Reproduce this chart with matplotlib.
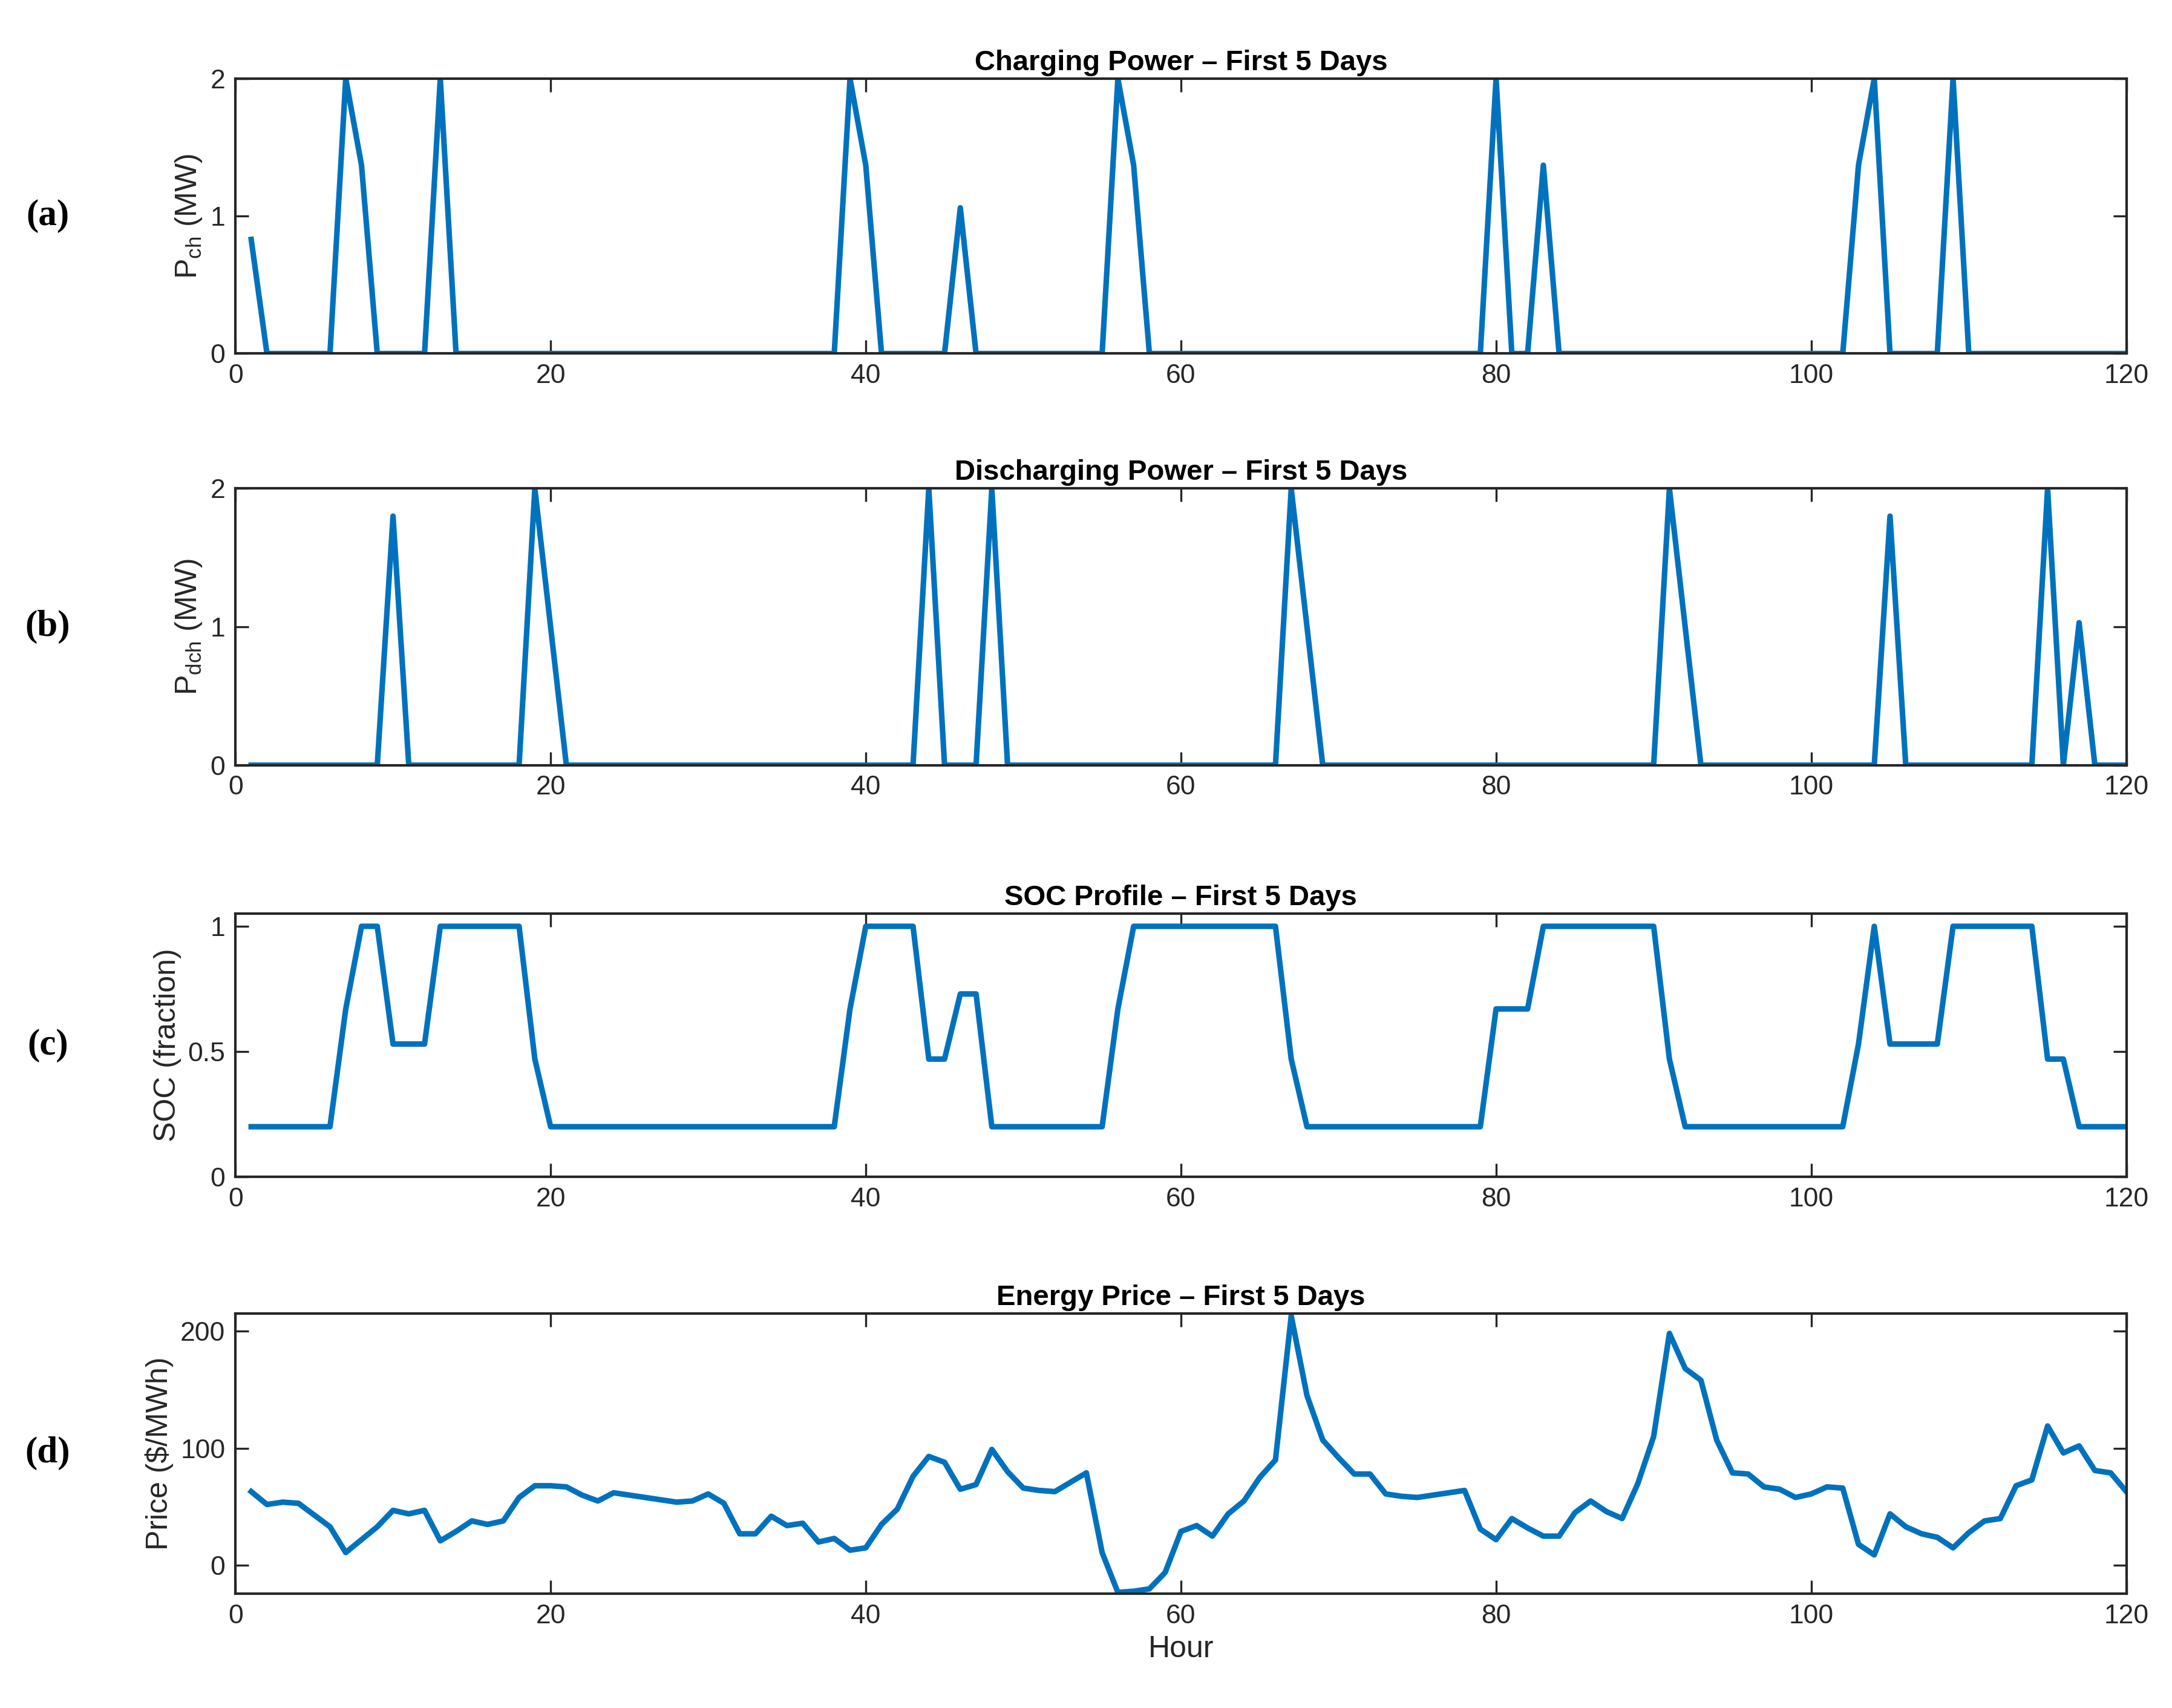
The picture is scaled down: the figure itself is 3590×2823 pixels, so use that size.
import matplotlib
matplotlib.use("Agg")
import matplotlib.pyplot as plt
import numpy as np

plt.rcParams['font.family'] = ['Liberation Sans', 'DejaVu Sans']
plt.rcParams['mathtext.fontset'] = 'custom'
plt.rcParams['mathtext.rm'] = 'Liberation Sans'

hours = np.arange(1, 121)

p_ch = [0.83,0,0,0,0,0,2,1.37,0,0, 0,0,2,0,0,0,0,0,0,0,
        0,0,0,0,0,0,0,0,0,0, 0,0,0,0,0,0,0,0,2,1.37,
        0,0,0,0,0,1.06,0,0,0,0, 0,0,0,0,0,2,1.37,0,0,0,
        0,0,0,0,0,0,0,0,0,0, 0,0,0,0,0,0,0,0,0,2,
        0,0,1.37,0,0,0,0,0,0,0, 0,0,0,0,0,0,0,0,0,0,
        0,0,1.37,2,0,0,0,0,2,0, 0,0,0,0,0,0,0,0,0,0]

p_dch = [0,0,0,0,0,0,0,0,0,1.8, 0,0,0,0,0,0,0,0,2,1,
         0,0,0,0,0,0,0,0,0,0, 0,0,0,0,0,0,0,0,0,0,
         0,0,0,2,0,0,0,2,0,0, 0,0,0,0,0,0,0,0,0,0,
         0,0,0,0,0,0,2,1,0,0, 0,0,0,0,0,0,0,0,0,0,
         0,0,0,0,0,0,0,0,0,0, 2,1,0,0,0,0,0,0,0,0,
         0,0,0,0,1.8,0,0,0,0,0, 0,0,0,0,2,0,1.03,0,0,0]

soc = [0.2,0.2,0.2,0.2,0.2,0.2,0.67,1,1,0.53, 0.53,0.53,1,1,1,1,1,1,0.47,0.2,
       0.2,0.2,0.2,0.2,0.2,0.2,0.2,0.2,0.2,0.2, 0.2,0.2,0.2,0.2,0.2,0.2,0.2,0.2,0.67,1,
       1,1,1,0.47,0.47,0.73,0.73,0.2,0.2,0.2, 0.2,0.2,0.2,0.2,0.2,0.67,1,1,1,1,
       1,1,1,1,1,1,0.47,0.2,0.2,0.2, 0.2,0.2,0.2,0.2,0.2,0.2,0.2,0.2,0.2,0.67,
       0.67,0.67,1,1,1,1,1,1,1,1, 0.47,0.2,0.2,0.2,0.2,0.2,0.2,0.2,0.2,0.2,
       0.2,0.2,0.53,1,0.53,0.53,0.53,0.53,1,1, 1,1,1,1,0.47,0.47,0.2,0.2,0.2,0.2]

price = [63,52,54,53,43,33,11,22,33,47, 44,47,21,29,38,35,38,58,68,68,
         67,60,55,62,60,58,56,54,55,61, 53,27,27,42,34,36,20,23,13,15,
         35,48,76,93,88,65,69,99,80,66, 64,63,71,79,11,-23,-22,-20,-6,29,
         34,25,44,55,75,90,213,145,107,92, 78,78,61,59,58,60,62,64,31,22,
         40,32,25,25,45,55,46,40,70,110, 198,168,158,107,79,78,67,65,58,61,
         67,66,18,9,44,33,27,24,15,28, 38,40,68,73,119,96,102,81,79,63]

titles = ["Charging Power – First 5 Days", "Discharging Power – First 5 Days",
          "SOC Profile – First 5 Days", "Energy Price – First 5 Days"]
ylabels = [r"P$_{\mathrm{ch}}$ (MW)", r"P$_{\mathrm{dch}}$ (MW)", "SOC (fraction)", "Price ($/MWh)"]
panel_labels = ["(a)", "(b)", "(c)", "(d)"]
series = [p_ch, p_dch, soc, price]
ylims = [(0, 2), (0, 2), (0, 1.05), (-24, 215)]
yticks = [[0, 1, 2], [0, 1, 2], [0, 0.5, 1], [0, 100, 200]]
ytl = [["0", "1", "2"], ["0", "1", "2"], ["0", "0.5", "1"], ["0", "100", "200"]]
boxes = [(0.793, 0.954), (0.552, 0.714), (0.311, 0.465), (0.067, 0.231)]

fig = plt.figure(figsize=(17.95, 14.115), dpi=200)
left, right = 0.1084, 0.979
for i in range(4):
    b, t = boxes[i]
    ax = fig.add_axes([left, b, right - left, t - b])
    ax.plot(hours, series[i], color='#0072BD', lw=3.3)
    ax.set_xlim(0, 120)
    ax.set_ylim(*ylims[i])
    ax.set_xticks([0, 20, 40, 60, 80, 100, 120])
    ax.set_yticks(yticks[i])
    ax.set_yticklabels(ytl[i])
    ax.tick_params(direction='in', top=True, right=True, labelsize=16,
                   length=8, width=1.2, colors='#262626', labelcolor='#262626', pad=6)
    for s in ax.spines.values():
        s.set_linewidth(1.5)
        s.set_color('#262626')
    ax.set_title(titles[i], fontsize=17, fontweight='bold', pad=5)
    ax.set_ylabel(ylabels[i], fontsize=18, color='#262626')
    fig.text(0.022, (b + t) / 2, panel_labels[i], fontsize=22, fontweight='bold',
             family=['Liberation Serif'], va='center', ha='center')
    if i == 3:
        ax.set_xlabel("Hour", fontsize=18, color='#262626')

fig.savefig("out.png", dpi=200, facecolor='white')
